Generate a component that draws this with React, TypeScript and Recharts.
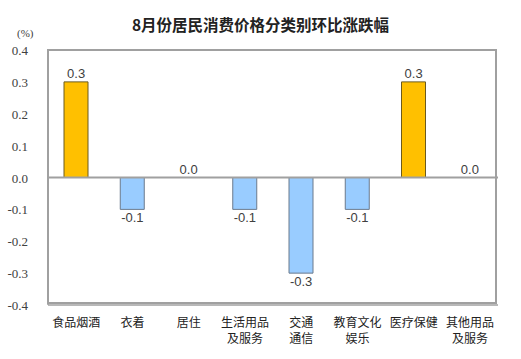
import React from "react";
import { ComposedChart, Bar, Line, XAxis, YAxis, Cell, ReferenceLine, LabelList } from "recharts";

const categories = ["食品烟酒", "衣着", "居住", "生活用品\n及服务", "交通\n通信", "教育文化\n娱乐", "医疗保健", "其他用品\n及服务"];
const values = [0.3, -0.1, 0.0, -0.1, -0.3, -0.1, 0.3, 0.0];
const yTicks = [-0.4, -0.3, -0.2, -0.1, 0.0, 0.1, 0.2, 0.3, 0.4];

const data = categories.map((c, i) => ({ name: c, value: values[i] }));

const CJK = "'Noto Sans CJK SC', 'Noto Sans', sans-serif";
const BORDER = "#a0a0a0";
const M = { top: 50, right: 23, bottom: 54, left: 48 };
const W = 521;
const H = 359;

const XTick = (props: any) => {
  const { x, y, payload } = props;
  const lines = String(payload.value).split("\n");
  return (
    <g transform={`translate(${x},${y})`}>
      {lines.map((l: string, i: number) => (
        <text key={i} x={0} y={14 + i * 16} textAnchor="middle" fontSize={12} fill="#222" fontFamily={CJK}>
          {l}
        </text>
      ))}
    </g>
  );
};

const YTick = (props: any) => {
  const { x, y, payload } = props;
  return (
    <text x={x} y={y} dy={5} textAnchor="end" fontSize={13} fill="#404040" fontFamily="'Liberation Serif', 'DejaVu Serif', serif">
      {Number(payload.value).toFixed(1)}
    </text>
  );
};

const ValueLabel = (props: any) => {
  const { x, y, value } = props;
  const neg = value < 0;
  return (
    <text
      x={x}
      y={neg ? y + 13 : y - 4}
      textAnchor="middle"
      fontSize={13}
      fill="#404040"
      fontFamily="'Liberation Sans', Arial, sans-serif"
    >
      {Number(value).toFixed(1)}
    </text>
  );
};

export default function App() {
  return (
    <div style={{ position: "absolute", left: 0, top: 0, width: W, height: H, background: "#fff" }}>
      <div
        style={{
          position: "absolute",
          left: 0,
          width: W,
          top: 13,
          textAlign: "center",
          fontFamily: CJK,
          fontSize: 15.5,
          fontWeight: 700,
          color: "#222",
        }}
      >
        8月份居民消费价格分类别环比涨跌幅
      </div>
      <div
        style={{
          position: "absolute",
          left: 17,
          top: 27,
          fontFamily: "'Liberation Serif', serif",
          fontSize: 11,
          color: "#404040",
        }}
      >
        (%)
      </div>
      <div style={{ position: "absolute", left: 0, top: 0 }}>
        <ComposedChart width={W} height={H} data={data} margin={{ top: M.top, right: M.right, bottom: 0, left: 0 }}>
          <XAxis
            dataKey="name"
            axisLine={{ stroke: BORDER, strokeWidth: 1.5 }}
            tickLine={false}
            interval={0}
            tick={<XTick />}
            height={M.bottom}
          />
          <YAxis
            domain={[-0.4, 0.4]}
            ticks={yTicks}
            width={M.left}
            axisLine={{ stroke: BORDER, strokeWidth: 1.5 }}
            tickLine={false}
            tickMargin={14}
            tick={<YTick />}
            interval={0}
          />
          <ReferenceLine y={0} stroke={BORDER} strokeWidth={2} />
          <Bar dataKey="value" barSize={24} isAnimationActive={false}>
            {data.map((d, i) => (
              <Cell
                key={i}
                fill={d.value >= 0 ? "#FFC000" : "#99CCFF"}
                stroke={d.value >= 0 ? "#6b5a1e" : "#6b7a8c"}
                strokeWidth={1}
              />
            ))}
          </Bar>
          <Line dataKey="value" stroke="none" dot={false} activeDot={false} isAnimationActive={false}>
            <LabelList dataKey="value" content={<ValueLabel />} />
          </Line>
        </ComposedChart>
      </div>
      <div
        style={{
          position: "absolute",
          zIndex: 5,
          left: M.left - 1,
          top: M.top - 1,
          width: W - M.left - M.right,
          height: H - M.top - M.bottom,
          border: `2px solid ${BORDER}`,
          boxSizing: "border-box",
          pointerEvents: "none",
        }}
      />
    </div>
  );
}
